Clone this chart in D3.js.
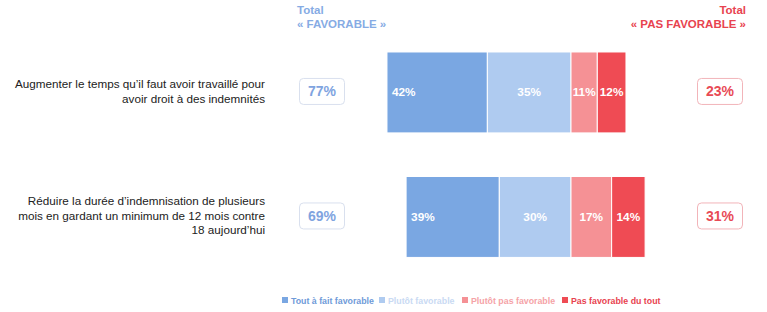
<!DOCTYPE html>
<html><head><meta charset="utf-8">
<script src="https://cdn.jsdelivr.net/npm/d3@7"></script>
<style>
html,body{margin:0;padding:0;background:#fff;}
svg{display:block;font-family:"Liberation Sans",Arial,sans-serif;}
</style></head>
<body>
<svg id="chart" width="767" height="312"></svg>
<script>
const questions = [
  ["Augmenter le temps qu\u2019il faut avoir travaillé pour", "avoir droit à des indemnités"],
  ["Réduire la durée d\u2019indemnisation de plusieurs", "mois en gardant un minimum de 12 mois contre", "18 aujourd\u2019hui"]
];
const seriesNames = ["Tout à fait favorable", "Plutôt favorable", "Plutôt pas favorable", "Pas favorable du tout"];
const toutFavorable = [42, 39];
const plutotFavorable = [35, 30];
const plutotPasFavorable = [11, 17];
const pasFavorable = [12, 14];
const totalFavorable = [77, 69];
const totalPasFavorable = [23, 31];
const colors = ["#7aa7e2", "#afcbf0", "#f59195", "#ef4b54"];

const svg = d3.select("#chart");
const x = d3.scaleLinear().domain([-100, 100]).range([332, 810]);
const y = d3.scaleBand().domain(d3.range(questions.length)).range([8.4, 301]).paddingInner(0.35).paddingOuter(0.35);

// headers
const hdrL = svg.append("text").attr("x", 297).attr("font-weight", "bold").attr("font-size", 11.5).attr("fill", "#86abe4");
hdrL.append("tspan").attr("x", 297).attr("y", 14).text("Total");
hdrL.append("tspan").attr("x", 297).attr("y", 28).text("« FAVORABLE »");
const hdrR = svg.append("text").attr("text-anchor", "end").attr("font-weight", "bold").attr("font-size", 11.5).attr("fill", "#e8434f");
hdrR.append("tspan").attr("x", 746).attr("y", 14).text("Total");
hdrR.append("tspan").attr("x", 746).attr("y", 28).text("« PAS FAVORABLE »");

const rows = questions.map((q, i) => {
  const vals = [toutFavorable[i], plutotFavorable[i], plutotPasFavorable[i], pasFavorable[i]];
  let start = -(vals[0] + vals[1]);
  return vals.map((v, k) => { const s = start; start += v; return {i, k, v, x0: s, x1: start}; });
});

const g = svg.append("g");
rows.forEach((segs, i) => {
  const row = g.append("g");
  row.selectAll("rect").data(segs).join("rect")
    .attr("x", d => x(d.x0)).attr("width", d => x(d.x1) - x(d.x0))
    .attr("y", y(i)).attr("height", y.bandwidth())
    .attr("fill", d => colors[d.k]).attr("stroke", "#fff").attr("stroke-width", 1);
  row.selectAll("text").data(segs).join("text")
    .attr("x", d => d.k === 0 ? x(d.x0) + 5 : (x(d.x0) + x(d.x1)) / 2)
    .attr("text-anchor", d => d.k === 0 ? "start" : "middle")
    .attr("y", y(i) + y.bandwidth() / 2 + 4)
    .attr("fill", "#fff").attr("font-weight", "bold").attr("font-size", 11.8)
    .text(d => d.v + "%");

  // question label
  const cy = y(i) + y.bandwidth() / 2 - 1;
  const lines = questions[i];
  const lbl = svg.append("text").attr("text-anchor", "end").attr("font-size", 11.7).attr("fill", "#222");
  lines.forEach((ln, j) => {
    lbl.append("tspan").attr("x", 265).attr("y", cy + (j - (lines.length - 1) / 2) * 14.5 + 4).text(ln);
  });

  // totals boxes
  const by = y(i) + y.bandwidth() / 2 - 14;
  svg.append("rect").attr("x", 299.5).attr("y", by).attr("width", 45).attr("height", 26).attr("rx", 4)
    .attr("fill", "#fff").attr("stroke", "#d9e0ee").attr("stroke-width", 1);
  svg.append("text").attr("x", 322).attr("y", by + 18).attr("text-anchor", "middle")
    .attr("font-weight", "bold").attr("font-size", 14).attr("fill", "#7fa4df").text(totalFavorable[i] + "%");
  svg.append("rect").attr("x", 697.5).attr("y", by).attr("width", 45).attr("height", 26).attr("rx", 4)
    .attr("fill", "#fff").attr("stroke", "#f2b4b9").attr("stroke-width", 1);
  svg.append("text").attr("x", 720).attr("y", by + 18).attr("text-anchor", "middle")
    .attr("font-weight", "bold").attr("font-size", 14).attr("fill", "#e84a55").text(totalPasFavorable[i] + "%");
});

// legend
const legendX = [282, 379, 462, 562];
const legendText = ["#6f9bd9", "#c9daf3", "#f5a3a7", "#e8434f"];
seriesNames.forEach((n, k) => {
  svg.append("rect").attr("x", legendX[k]).attr("y", 297).attr("width", 6).attr("height", 6).attr("fill", colors[k]);
  svg.append("text").attr("x", legendX[k] + 9).attr("y", 303.5).attr("font-size", 8.8).attr("font-weight", "bold")
    .attr("fill", legendText[k]).text(n);
});
</script>
</body></html>
